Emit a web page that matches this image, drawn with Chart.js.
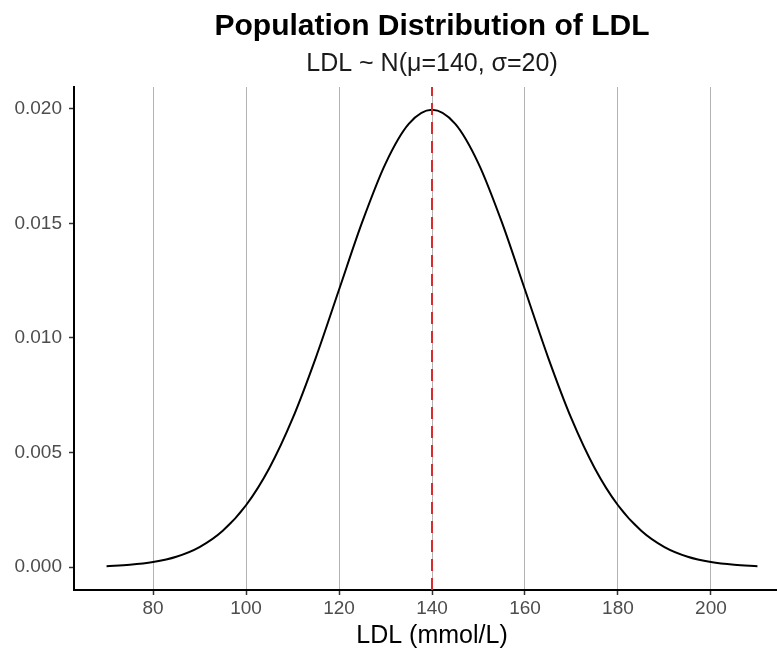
<!DOCTYPE html>
<html>
<head>
<meta charset="utf-8">
<script src="https://cdn.jsdelivr.net/npm/chart.js@4/dist/chart.umd.min.js"></script>
<style>
  html, body { margin: 0; padding: 0; background: #fff; overflow: hidden; }
  #wrap { width: 790px; height: 652px; }
</style>
</head>
<body>
<div id="wrap"><canvas id="ldlChart" width="790" height="652"></canvas></div>
<script>
// LDL values (x) and density
const ldlValues = [70, 75, 80, 85, 90, 95, 100, 105, 110, 115, 120, 125, 130, 135, 140,
  145, 150, 155, 160, 165, 170, 175, 180, 185, 190, 195, 200, 205, 210];
const densityValues = [0.000044, 0.000101, 0.000222, 0.000454, 0.000876, 0.001587, 0.002700,
  0.004317, 0.006476, 0.009132, 0.012099, 0.015058, 0.017603, 0.019333, 0.019947,
  0.019333, 0.017603, 0.015058, 0.012099, 0.009132, 0.006476, 0.004317, 0.002700,
  0.001587, 0.000876, 0.000454, 0.000222, 0.000101, 0.000044];

const meanLDL = 140;

const xTickValues = [80, 100, 120, 140, 160, 180, 200];
const xTickLabels = ['80', '100', '120', '140', '160', '180', '200'];
const yTickValues = [0, 0.005, 0.010, 0.015, 0.020];
const yTickLabels = ['0.000', '0.005', '0.010', '0.015', '0.020'];

const xMin = 63, xMax = 217;
const yMin = -0.000997, yMax = 0.020944;

const curvePoints = ldlValues.map((x, i) => ({ x: x, y: densityValues[i] }));
const meanPoints = [{ x: meanLDL, y: yMin }, { x: meanLDL, y: yMax }];

const FONT = "'Liberation Sans', Arial, sans-serif";

var ctx = document.getElementById('ldlChart').getContext('2d');

var ldlChart = new Chart(ctx, {
  type: 'line',
  data: {
    datasets: [
      {
        label: 'mean',
        data: meanPoints,
        borderColor: '#d92b2b',
        borderWidth: 2,
        borderDash: [12, 7],
        pointRadius: 0,
        order: 0
      },
      {
        label: 'density',
        data: curvePoints,
        borderColor: '#000',
        borderWidth: 2,
        pointRadius: 0,
        cubicInterpolationMode: 'monotone',
        order: 1
      }
    ]
  },
  options: {
    responsive: false,
    animation: false,
    layout: { padding: 0 },
    plugins: {
      legend: { display: false },
      tooltip: { enabled: false },
      title: {
        display: true,
        text: 'Population Distribution of LDL',
        fullSize: false,
        color: '#000',
        font: { family: FONT, size: 30, weight: 'bold' },
        padding: { top: 9, bottom: 4 }
      },
      subtitle: {
        display: true,
        text: 'LDL ~ N(\u03bc=140, \u03c3=20)',
        fullSize: false,
        color: '#1a1a1a',
        font: { family: FONT, size: 25 },
        padding: { top: 0, bottom: 8 }
      }
    },
    scales: {
      x: {
        type: 'linear',
        min: xMin,
        max: xMax,
        afterBuildTicks: (scale) => {
          scale.ticks = xTickValues.map(v => ({ value: v }));
        },
        afterFit: (scale) => { scale.height = 62; },
        ticks: {
          color: '#4d4d4d',
          font: { family: FONT, size: 19 },
          padding: 2,
          maxRotation: 0,
          callback: (v) => xTickLabels[xTickValues.indexOf(v)]
        },
        grid: {
          color: '#b3b3b3',
          lineWidth: 1,
          borderDash: [10, 3],
          tickColor: '#333',
          tickWidth: 1.5,
          tickLength: 5,
          tickBorderDash: []
        },
        border: { display: true, color: '#000', width: 2 },
        title: {
          display: true,
          text: 'LDL (mmol/L)',
          color: '#000',
          font: { family: FONT, size: 25 },
          padding: { top: 0, bottom: 1 }
        }
      },
      y: {
        type: 'linear',
        min: yMin,
        max: yMax,
        afterBuildTicks: (scale) => {
          scale.ticks = yTickValues.map(v => ({ value: v }));
        },
        afterFit: (scale) => { scale.width = 74; },
        ticks: {
          color: '#4d4d4d',
          font: { family: FONT, size: 19 },
          padding: 7,
          callback: (v) => yTickLabels[yTickValues.indexOf(v)]
        },
        grid: {
          drawOnChartArea: false,
          tickColor: '#333',
          tickWidth: 1.5,
          tickLength: 5
        },
        border: { display: true, color: '#000', width: 2 }
      }
    }
  }
});
</script>
</body>
</html>
